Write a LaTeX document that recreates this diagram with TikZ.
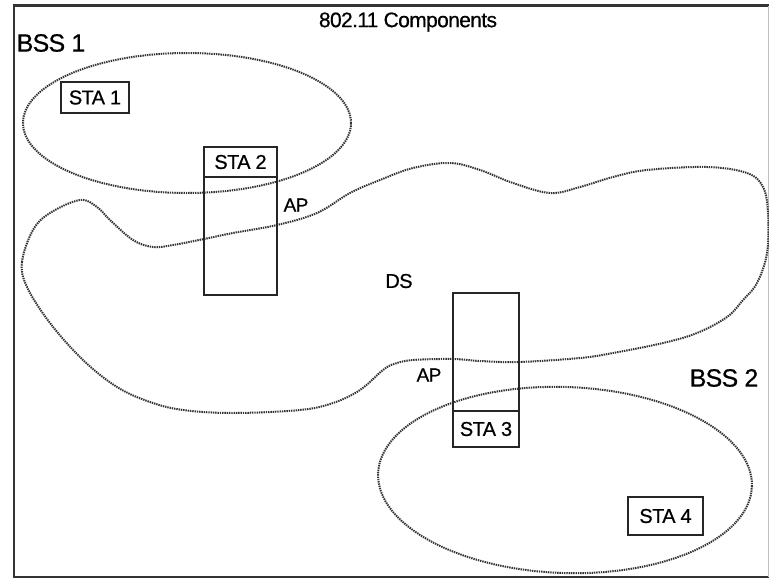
\documentclass[tikz,border=0pt]{standalone}
\usepackage{fontspec}
\setmainfont{Liberation Sans}[LetterSpace=-3, FakeBold=0.6]
\usetikzlibrary{shapes.geometric}
\begin{document}
\begin{tikzpicture}[x=1pt,y=-1pt,
  frame/.style={line width=2.6pt, black!80},
  dotline/.style={line width=2pt, black!80, dash pattern=on 1.4pt off 0.9pt},
  stabox/.style={draw=black!85, line width=1.7pt, inner sep=0pt, font=\fontsize{20}{22}\selectfont},
  apbox/.style={draw=black!85, line width=1.7pt, inner sep=0pt},
  lbl/.style={inner sep=0pt, font=\fontsize{19}{21}\selectfont},
  biglbl/.style={inner sep=0pt, font=\fontsize{25}{27}\selectfont},
  area/.style={dotline, ellipse, inner sep=0pt}]
\useasboundingbox (0,0) rectangle (769,581);
% frame
\coordinate (tl) at (14,5.5);
\coordinate (tr) at (769,5.5);
\coordinate (bl) at (14,577);
\coordinate (br) at (769,577);
\draw[frame] (tr) -- (tl) -- (bl) -- (br);
\draw[line width=0.6pt, black!25] (768,5.5) -- (768,577);
% title
\node[inner sep=0pt, font=\fontsize{21}{23}\selectfont] (title) at (408,22) {802.11 Components};
\node[biglbl] (bss1lbl) at (51,43) {BSS 1};
\node[biglbl] (bss2lbl) at (724,378) {BSS 2};
% BSS areas
\node[area, draw, minimum width=328, minimum height=140] (bss1) at (187,123) {};
\node[area, draw, minimum width=374, minimum height=186, rotate=-2] (bss2) at (565,480) {};
% DS
\draw[dotline] plot[smooth cycle, tension=0.6] coordinates {
 (27,287) (22,262) (33,230) (50,213) (80,200) (97,207) (110,220) (133,240)
 (153,247) (173,245) (204,239) (233,233) (277,225) (317,213) (350,193)
 (380,180) (413,168) (450,163) (480,170) (513,183) (550,193) (580,187)
 (613,177) (647,170) (707,167) (747,173) (763,187) (768,213) (767,253)
 (757,283) (743,300) (727,317) (697,333) (663,343) (613,353) (580,358)
 (519,362) (480,361) (453,359) (413,360) (394,364) (383,370) (360,390)
 (333,403) (300,410) (233,413) (183,410) (150,402) (117,387) (83,360)
 (50,323)};
\node[inner sep=0pt, font=\fontsize{20}{22}\selectfont] (ds) at (399,281) {DS};
% stations
\node[stabox, minimum width=68, minimum height=31] (sta1) at (95,97.5) {STA 1};
\node[apbox, minimum width=73, minimum height=148] (ap1) at (240.5,221) {};
\node[stabox, minimum width=73, minimum height=30] (sta2) at (240.5,162) {STA 2};
\node[lbl] (ap1lbl) at (296,205) {AP};
\node[apbox, minimum width=66, minimum height=154] (ap2) at (486,370) {};
\node[stabox, minimum width=66, minimum height=36] (sta3) at (486,429) {STA 3};
\node[lbl] (ap2lbl) at (429,375) {AP};
\node[stabox, minimum width=75, minimum height=38] (sta4) at (665.5,516) {STA 4};
\end{tikzpicture}
\end{document}
